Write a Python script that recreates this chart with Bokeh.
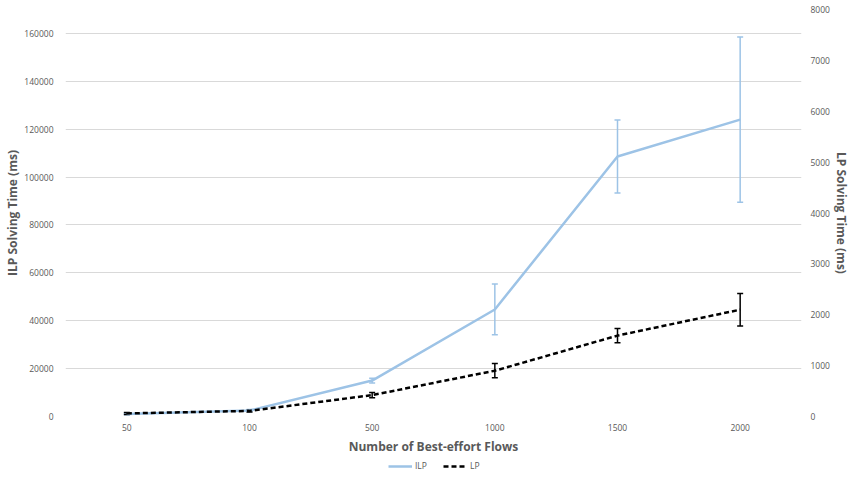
from bokeh.plotting import figure
from bokeh.layouts import column
from bokeh.models import (FactorRange, Range1d, LinearAxis, ColumnDataSource, Whisker,
                          TeeHead, Legend, LegendItem, SingleIntervalTicker, NumeralTickFormatter)
from bokeh.embed import file_html
from bokeh.resources import INLINE

flows = ["50", "100", "500", "1000", "1500", "2000"]
ilp_mean = [1000, 2500, 15000, 44700, 108600, 124000]
ilp_err = [300, 400, 1000, 10600, 15200, 34500]
lp_mean = [60, 110, 420, 900, 1590, 2100]
lp_err = [20, 20, 50, 140, 140, 320]
series_names = ["ILP", "LP"]

ILP_COLOR = "#9dc3e6"
TXT = "#595959"
FONT = "Open Sans"

p = figure(width=852, height=458, x_range=FactorRange(*flows), y_range=Range1d(0, 170000),
           output_backend="svg", toolbar_location=None,
           min_border_left=65, min_border_right=49, min_border_top=9, min_border_bottom=42)
p.outline_line_color = None
p.background_fill_color = "white"
p.border_fill_color = "white"

p.extra_y_ranges = {"lp": Range1d(0, 8000)}

ilp_src = ColumnDataSource(dict(x=flows, y=ilp_mean,
                                upper=[m + e for m, e in zip(ilp_mean, ilp_err)],
                                lower=[m - e for m, e in zip(ilp_mean, ilp_err)]))
lp_src = ColumnDataSource(dict(x=flows, y=lp_mean,
                               upper=[m + e for m, e in zip(lp_mean, lp_err)],
                               lower=[m - e for m, e in zip(lp_mean, lp_err)]))

ILP_STYLE = dict(line_color=ILP_COLOR, line_width=2.5)
LP_STYLE = dict(line_color="black", line_width=2.5, line_dash="5 3")

p.line("x", "y", source=ilp_src, **ILP_STYLE)
p.line("x", "y", source=lp_src, y_range_name="lp", **LP_STYLE)

w1 = Whisker(source=ilp_src, base="x", upper="upper", lower="lower",
             line_color=ILP_COLOR, line_width=1.5,
             upper_head=TeeHead(size=6, line_color=ILP_COLOR, line_width=1.5),
             lower_head=TeeHead(size=6, line_color=ILP_COLOR, line_width=1.5))
w2 = Whisker(source=lp_src, base="x", upper="upper", lower="lower", y_range_name="lp",
             line_color="black", line_width=1.5,
             upper_head=TeeHead(size=6, line_color="black", line_width=1.5),
             lower_head=TeeHead(size=6, line_color="black", line_width=1.5))
p.add_layout(w1)
p.add_layout(w2)

la = p.yaxis[0]
la.ticker = SingleIntervalTicker(interval=20000)
la.formatter = NumeralTickFormatter(format="0")
la.axis_label = "ILP Solving Time (ms)"

ra = LinearAxis(y_range_name="lp", axis_label="LP Solving Time (ms)",
                ticker=SingleIntervalTicker(interval=1000))
p.add_layout(ra, "right")

for ax in [la, ra, p.xaxis[0]]:
    ax.axis_line_color = None
    ax.major_tick_line_color = None
    ax.minor_tick_line_color = None
    ax.major_tick_out = 0
    ax.major_tick_in = 0
    ax.major_label_text_color = TXT
    ax.major_label_text_font = FONT
    ax.major_label_text_font_size = "8.5px"
    ax.axis_label_text_color = TXT
    ax.axis_label_text_font = FONT
    ax.axis_label_text_font_size = "12px"
    ax.axis_label_text_font_style = "bold"

la.major_label_standoff = 8
la.axis_label_standoff = 0
ra.major_label_standoff = 5
ra.axis_label_standoff = 0
p.xaxis[0].major_label_standoff = 7
p.xaxis[0].axis_label = "Number of Best-effort Flows"
p.xaxis[0].axis_label_standoff = 4

p.xgrid.grid_line_color = None
p.ygrid.grid_line_color = "#d9d9d9"
p.ygrid.grid_line_width = 1
p.ygrid.ticker = SingleIntervalTicker(interval=20000)

# legend strip below the chart (series drawn out of view, only the legend shows)
lg = figure(width=852, height=25, x_range=FactorRange(*flows), y_range=Range1d(-2, -1),
            output_backend="svg", toolbar_location=None,
            min_border_left=0, min_border_right=0, min_border_top=0, min_border_bottom=0)
lg.axis.visible = False
lg.grid.visible = False
lg.outline_line_color = None
l1 = lg.line(flows, ilp_mean, **ILP_STYLE)
l2 = lg.line(flows, lp_mean, **LP_STYLE)
legend = Legend(items=[LegendItem(label=series_names[0], renderers=[l1]),
                       LegendItem(label=series_names[1], renderers=[l2])],
                location=(323, 12), orientation="horizontal",
                border_line_color=None, background_fill_alpha=0,
                padding=0, margin=0, spacing=8, glyph_width=24, glyph_height=10,
                label_standoff=3, label_text_font=FONT, label_text_font_size="8.5px",
                label_text_color=TXT, label_height=10)
lg.add_layout(legend, "center")

layout = column(p, lg, spacing=0)
open("out.html", "w").write(file_html(layout, INLINE))
